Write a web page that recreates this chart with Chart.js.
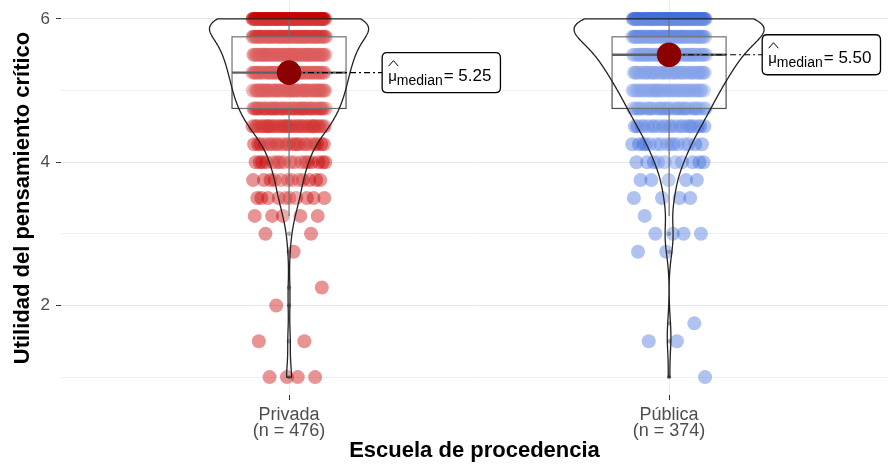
<!DOCTYPE html>
<html>
<head>
<meta charset="utf-8">
<script src="https://cdn.jsdelivr.net/npm/chart.js@4/dist/chart.umd.min.js"></script>
<style>
  html, body { margin: 0; padding: 0; background: #ffffff; }
  #wrap { width: 888px; height: 474px; }
</style>
</head>
<body>
<div id="wrap"><canvas id="chart" width="888" height="474"></canvas></div>
<script>
// Survey answers: how many respondents gave each score, by type of school
const schools = ['Privada', 'Pública'];
const groupSizes = [476, 374];
const scoreLevels = [1, 1.25, 1.5, 1.75, 2, 2.25, 2.5, 2.75, 3, 3.25, 3.5, 3.75, 4, 4.25, 4.5, 4.75, 5, 5.25, 5.5, 5.75, 6];
const privadaCounts = [4, 0, 2, 0, 1, 1, 0, 1, 2, 5, 10, 12, 17, 22, 37, 45, 50, 53, 58, 63, 93];
const publicaCounts = [1, 0, 2, 1, 0, 0, 0, 2, 4, 1, 4, 5, 10, 15, 22, 29, 35, 43, 50, 62, 88];
const medianValues = [5.25, 5.50];
const yTickValues = [1, 2, 3, 4, 5, 6];

const groupCounts = [privadaCounts, publicaCounts];
const pointColors = ['rgba(200,0,0,0.42)', 'rgba(65,110,220,0.42)'];
const FONT = '"Liberation Sans", Arial, Helvetica, sans-serif';

const jitterHalfWidth = 0.097;
const boxWidth = 0.3;
const violinWidth = 0.5;
const labelNudge = 0.245;

function expand(counts) {
  const out = [];
  counts.forEach((c, k) => { for (let j = 0; j < c; j++) out.push(scoreLevels[k]); });
  return out;
}
function quantile7(sorted, p) {
  const h = (sorted.length - 1) * p;
  const lo = Math.floor(h), hi = Math.ceil(h);
  return sorted[lo] + (h - lo) * (sorted[hi] - sorted[lo]);
}
function summarize(counts) {
  const v = expand(counts);
  const n = v.length;
  const q1 = quantile7(v, 0.25), q3 = quantile7(v, 0.75), med = quantile7(v, 0.5);
  const iqr = q3 - q1;
  const lo = v.find(x => x >= q1 - 1.5 * iqr);
  const hi = v.slice().reverse().find(x => x <= q3 + 1.5 * iqr);
  const mean = v.reduce((a, b) => a + b, 0) / n;
  const sd = Math.sqrt(v.reduce((a, b) => a + (b - mean) * (b - mean), 0) / (n - 1));
  const bw = 0.9 * Math.min(sd, iqr / 1.34) * Math.pow(n, -0.2);
  const outliers = scoreLevels.filter((s, k) => counts[k] > 0 && (s < lo || s > hi));
  return { n, q1, q3, med, lo, hi, bw, outliers, min: v[0], max: v[n - 1] };
}
// Gaussian kernel density, trimmed to the observed range
function density(st, counts) {
  const pts = [], N = 512;
  for (let i = 0; i < N; i++) {
    const y = st.min + (st.max - st.min) * i / (N - 1);
    let d = 0;
    counts.forEach((c, k) => {
      if (c) { const z = (y - scoreLevels[k]) / st.bw; d += c * Math.exp(-0.5 * z * z); }
    });
    pts.push({ y, d: d / (st.n * st.bw * Math.sqrt(2 * Math.PI)) });
  }
  return pts;
}
// Spread each row of equal scores sideways so the dots stay visible
function jitterPoints(gi) {
  const pts = [];
  let idx = 0;
  groupCounts[gi].forEach((c, k) => {
    for (let j = 0; j < c; j++) {
      idx++;
      const u = (idx * 0.6180339887 + gi * 0.37) % 1;
      pts.push({ x: gi + 1 + (u * 2 - 1) * jitterHalfWidth, y: scoreLevels[k] });
    }
  });
  return pts;
}

const groupStats = groupCounts.map(summarize);
const densities = groupCounts.map((c, i) => density(groupStats[i], c));
const globalMax = Math.max(...densities.map(ds => Math.max(...ds.map(p => p.d))));

const outlierData = [];
groupStats.forEach((st, gi) => st.outliers.forEach(v => outlierData.push({ x: gi + 1, y: v })));

function roundRect(ctx, x, y, w, h, r) {
  ctx.beginPath();
  ctx.moveTo(x + r, y);
  ctx.lineTo(x + w - r, y); ctx.quadraticCurveTo(x + w, y, x + w, y + r);
  ctx.lineTo(x + w, y + h - r); ctx.quadraticCurveTo(x + w, y + h, x + w - r, y + h);
  ctx.lineTo(x + r, y + h); ctx.quadraticCurveTo(x, y + h, x, y + h - r);
  ctx.lineTo(x, y + r); ctx.quadraticCurveTo(x, y, x + r, y);
  ctx.closePath();
}

// Boxes, violins and median labels, painted between the dots and the median markers
const overlay = {
  id: 'overlay',
  beforeDatasetDraw(chart, args) {
    if (args.index !== 0) return;
    const xs = chart.scales.x, ys = chart.scales.y, ctx = chart.ctx;
    groupStats.forEach((st, gi) => {
      const cx = gi + 1;
      const xc = xs.getPixelForValue(cx);
      const xl = xs.getPixelForValue(cx - boxWidth / 2), xr = xs.getPixelForValue(cx + boxWidth / 2);
      const yq1 = ys.getPixelForValue(st.q1), yq3 = ys.getPixelForValue(st.q3), ym = ys.getPixelForValue(st.med);
      ctx.save();
      // whiskers
      ctx.strokeStyle = '#4d4d4d'; ctx.lineWidth = 1.2;
      ctx.beginPath();
      ctx.moveTo(xc, yq3); ctx.lineTo(xc, ys.getPixelForValue(st.hi));
      ctx.moveTo(xc, yq1); ctx.lineTo(xc, ys.getPixelForValue(st.lo));
      ctx.stroke();
      // box
      ctx.fillStyle = 'rgba(255,255,255,0.2)';
      ctx.fillRect(xl, yq3, xr - xl, yq1 - yq3);
      ctx.strokeRect(xl, yq3, xr - xl, yq1 - yq3);
      ctx.lineWidth = 2.4; ctx.strokeStyle = '#3a3a3a';
      ctx.beginPath(); ctx.moveTo(xl, ym); ctx.lineTo(xr, ym); ctx.stroke();
      // violin
      const dens = densities[gi];
      ctx.beginPath();
      dens.forEach((p, i) => {
        const hw = p.d / globalMax * violinWidth / 2;
        const px = xs.getPixelForValue(cx + hw), py = ys.getPixelForValue(p.y);
        if (i) ctx.lineTo(px, py); else ctx.moveTo(px, py);
      });
      for (let i = dens.length - 1; i >= 0; i--) {
        const p = dens[i];
        const hw = p.d / globalMax * violinWidth / 2;
        ctx.lineTo(xs.getPixelForValue(cx - hw), ys.getPixelForValue(p.y));
      }
      ctx.closePath();
      ctx.fillStyle = 'rgba(255,255,255,0.2)'; ctx.fill();
      ctx.strokeStyle = '#222'; ctx.lineWidth = 1.3; ctx.stroke();

      // median label
      const mv = medianValues[gi];
      const my = ys.getPixelForValue(mv);
      const bx = xs.getPixelForValue(cx + labelNudge);
      const valueText = '= ' + mv.toFixed(2);
      ctx.font = '15px ' + FONT; const wMu = ctx.measureText('\u03bc').width;
      ctx.font = '14px ' + FONT; const wSub = ctx.measureText('median').width;
      ctx.font = '17px ' + FONT; const wVal = ctx.measureText(valueText).width;
      const padL = 6, padR = 9, bh = 40;
      const bwid = padL + wMu + wSub + 1 + wVal + padR;
      ctx.setLineDash([2, 3, 6, 3]);
      ctx.lineWidth = 1.2; ctx.strokeStyle = '#000';
      ctx.beginPath(); ctx.moveTo(xc, my); ctx.lineTo(bx, my); ctx.stroke();
      ctx.setLineDash([]);
      roundRect(ctx, bx, my - bh / 2, bwid, bh, 5);
      ctx.fillStyle = '#fff'; ctx.fill();
      ctx.lineWidth = 1.3; ctx.strokeStyle = '#000'; ctx.stroke();
      const base = my + 8;
      let tx = bx + padL;
      ctx.fillStyle = '#000'; ctx.textBaseline = 'alphabetic'; ctx.textAlign = 'left';
      ctx.font = '15px ' + FONT; ctx.fillText('\u03bc', tx, base);
      // hat over mu
      ctx.lineWidth = 1; ctx.beginPath();
      ctx.moveTo(tx + 0.5, base - 14.5); ctx.lineTo(tx + wMu / 2 + 1, base - 20); ctx.lineTo(tx + wMu + 1.5, base - 14.5);
      ctx.stroke();
      tx += wMu;
      ctx.font = '14px ' + FONT; ctx.fillText('median', tx, base + 4);
      tx += wSub + 1;
      ctx.font = '17px ' + FONT; ctx.fillText(valueText, tx, base);
      ctx.restore();
    });
  }
};

function zeroPadding(s) {
  s.paddingTop = 0; s.paddingBottom = 0; s.paddingLeft = 0; s.paddingRight = 0;
}

new Chart(document.getElementById('chart'), {
  type: 'scatter',
  data: {
    datasets: [
      { label: 'mediana', data: medianValues.map((m, i) => ({ x: i + 1, y: m })),
        backgroundColor: '#8B0000', pointRadius: 12.3, borderWidth: 0, order: 0 },
      { label: 'atípicos', data: outlierData,
        backgroundColor: 'rgba(70,70,70,0.55)', pointRadius: 2.2, borderWidth: 0, order: 1 },
      { label: schools[0], data: jitterPoints(0),
        backgroundColor: pointColors[0], pointRadius: 7, borderWidth: 0, order: 2 },
      { label: schools[1], data: jitterPoints(1),
        backgroundColor: pointColors[1], pointRadius: 7, borderWidth: 0, order: 2 }
    ]
  },
  options: {
    responsive: false,
    devicePixelRatio: 1,
    animation: false,
    events: [],
    layout: { autoPadding: false, padding: { top: 1, left: 0, right: 0, bottom: 0 } },
    plugins: { legend: { display: false }, tooltip: { enabled: false } },
    scales: {
      x: {
        type: 'linear', min: 0.4, max: 2.576,
        afterBuildTicks: s => { s.ticks = [1, 2].map(v => ({ value: v })); },
        afterFit: s => { s.height = 79; zeroPadding(s); },
        ticks: {
          autoSkip: false, maxRotation: 0, padding: 7,
          color: '#4D4D4D', font: { family: FONT, size: 18, lineHeight: '16px' },
          callback: v => [schools[v - 1], '(n = ' + groupSizes[v - 1] + ')']
        },
        grid: { color: '#EBEBEB', lineWidth: 1, tickLength: 5, tickColor: '#333', tickWidth: 1 },
        border: { display: false },
        title: { display: true, text: 'Escuela de procedencia', color: '#000',
                 font: { family: FONT, size: 22, weight: 'bold' }, padding: { top: 0, bottom: 10 } }
      },
      y: {
        type: 'linear', min: 0.75, max: 6.25,
        afterBuildTicks: s => { s.ticks = yTickValues.map(v => ({ value: v })); },
        afterFit: s => { s.width = 61; zeroPadding(s); },
        ticks: {
          padding: 6, color: '#4D4D4D', font: { family: FONT, size: 17 },
          callback: v => (v % 2 === 0 ? String(v) : '')
        },
        grid: {
          color: c => (c.tick && c.tick.value % 2 ? '#EFEFEF' : '#E6E6E6'),
          tickColor: c => (c.tick && c.tick.value % 2 ? 'rgba(0,0,0,0)' : '#333'),
          lineWidth: 1, tickLength: 5, tickWidth: 1
        },
        border: { display: false },
        title: { display: true, text: 'Utilidad del pensamiento crítico', color: '#000',
                 font: { family: FONT, size: 22, weight: 'bold' }, padding: { top: 10, bottom: 0 } }
      }
    }
  },
  plugins: [overlay]
});
</script>
</body>
</html>
